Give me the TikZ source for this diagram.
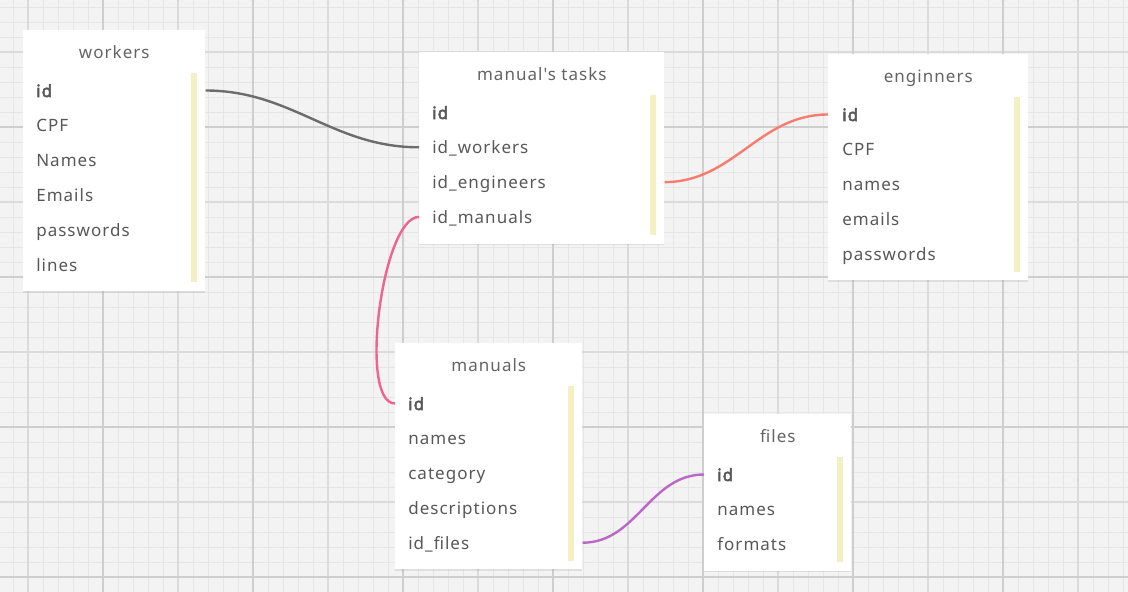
\documentclass[tikz,border=0pt]{standalone}
\usepackage{fontspec}
\setmainfont{Noto Sans}[LetterSpace=6,Ligatures=TeXOff,BoldFont={Noto Sans},BoldFeatures={FakeBold=3}]
\usepackage{xcolor}
\usepackage{tikz}
\usetikzlibrary{shadows}

\definecolor{gridbg}{RGB}{243,243,243}
\definecolor{gridminor}{RGB}{230,230,230}
\definecolor{gridmid}{RGB}{219,219,219}
\definecolor{gridmajor}{RGB}{206,206,206}
\definecolor{fieldtext}{RGB}{88,88,88}
\definecolor{titletext}{RGB}{100,100,100}
\definecolor{barfill}{RGB}{243,241,196}
\definecolor{linkgray}{RGB}{108,108,108}
\definecolor{linksalmon}{RGB}{247,124,110}
\definecolor{linkpink}{RGB}{240,98,146}
\definecolor{linkpurple}{RGB}{186,104,200}

\begin{document}
\begin{tikzpicture}[x=1pt,y=-1pt,semithick]
 \tikzstyle{table}=[fill=white, anchor=north west, inner sep=0pt, drop shadow={shadow xshift=0pt, shadow yshift=-1.5pt, opacity=0.18}]
 \tikzstyle{title}=[anchor=base, inner sep=0pt, text=titletext, font=\fontsize{17}{20}\selectfont]
 \tikzstyle{field}=[anchor=west, inner sep=0pt, text height=13pt, text depth=0pt, text=fieldtext, font=\fontsize{17}{20}\selectfont]
 \tikzstyle{bar}=[fill=barfill]
 \tikzstyle{link}=[line width=2.4pt]

 \useasboundingbox (0,0) rectangle (1128,592);

 % background grid
 \fill[gridbg] (0,0) rectangle (1128,592);
 \foreach \x in {13,28,...,1123} \draw[gridminor, line width=1pt] (\x,0) -- (\x,592);
 \foreach \y in {7,22,...,592} \draw[gridminor, line width=1pt] (0,\y) -- (1128,\y);
 \foreach \x in {28,178,...,1078} \draw[gridmid, line width=1.2pt] (\x,0) -- (\x,592);
 \foreach \y in {52,202,352,502} \draw[gridmid, line width=1.2pt] (0,\y) -- (1128,\y);
 \foreach \x in {103,253,...,1003} \draw[gridmajor, line width=1.3pt] (\x,0) -- (\x,592);
 \foreach \y in {127,277,427,577} \draw[gridmajor, line width=1.3pt] (0,\y) -- (1128,\y);

 % workers
 \node[table, minimum width=182pt, minimum height=260.8pt] (workers) at (23,30) {};
 \node[title] (workers-t) at ([yshift=-28pt]workers.north) {workers};
 \foreach \f [count=\i] in {\textbf{id}, CPF, Names, Emails, passwords, lines}
  \node[field] (workers-\i) at ([xshift=13pt, yshift={-(60.5+34.8*(\i-1))*1pt}]workers.north west) {\f};
 \fill[bar] ([xshift=-15pt, yshift=-43pt]workers.north east) rectangle ([xshift=-9pt, yshift=9pt]workers.south east);

 % manual's tasks
 \node[table, minimum width=245pt, minimum height=191.2pt] (tasks) at (419,52) {};
 \node[title] (tasks-t) at ([yshift=-28pt]tasks.north) {manual's tasks};
 \foreach \f [count=\i] in {\textbf{id}, id\_workers, id\_engineers, id\_manuals}
  \node[field] (tasks-\i) at ([xshift=13pt, yshift={-(60.5+34.8*(\i-1))*1pt}]tasks.north west) {\f};
 \fill[bar] ([xshift=-15pt, yshift=-43pt]tasks.north east) rectangle ([xshift=-9pt, yshift=9pt]tasks.south east);

 % enginners
 \node[table, minimum width=200pt, minimum height=226pt] (engineers) at (828,54) {};
 \node[title] (engineers-t) at ([yshift=-28pt]engineers.north) {enginners};
 \foreach \f [count=\i] in {\textbf{id}, CPF, names, emails, passwords}
  \node[field] (engineers-\i) at ([xshift=14pt, yshift={-(60.5+34.8*(\i-1))*1pt}]engineers.north west) {\f};
 \fill[bar] ([xshift=-15pt, yshift=-43pt]engineers.north east) rectangle ([xshift=-9pt, yshift=9pt]engineers.south east);

 % manuals
 \node[table, minimum width=187pt, minimum height=226pt] (manuals) at (395,343) {};
 \node[title] (manuals-t) at ([yshift=-28pt]manuals.north) {manuals};
 \foreach \f [count=\i] in {\textbf{id}, names, category, descriptions, id\_files}
  \node[field] (manuals-\i) at ([xshift=13pt, yshift={-(60.5+34.8*(\i-1))*1pt}]manuals.north west) {\f};
 \fill[bar] ([xshift=-15pt, yshift=-43pt]manuals.north east) rectangle ([xshift=-9pt, yshift=9pt]manuals.south east);

 % files
 \node[table, minimum width=147pt, minimum height=156.4pt] (files) at (704,414) {};
 \node[title] (files-t) at ([yshift=-28pt]files.north) {files};
 \foreach \f [count=\i] in {\textbf{id}, names, formats}
  \node[field] (files-\i) at ([xshift=13pt, yshift={-(60.5+34.8*(\i-1))*1pt}]files.north west) {\f};
 \fill[bar] ([xshift=-15pt, yshift=-43pt]files.north east) rectangle ([xshift=-9pt, yshift=9pt]files.south east);

 % relations
 \draw[link, linkgray] (workers.east |- workers-1) to[out=0, in=180] (tasks.west |- tasks-2);
 \draw[link, linksalmon] (tasks.east |- tasks-3) to[out=0, in=180] (engineers.west |- engineers-1);
 \draw[link, linkpink] (tasks.west |- tasks-4) .. controls +(-37,0) and +(-37,0) .. (manuals.west |- manuals-1);
 \draw[link, linkpurple] (manuals.east |- manuals-5) to[out=0, in=180] (files.west |- files-1);
\end{tikzpicture}
\end{document}
